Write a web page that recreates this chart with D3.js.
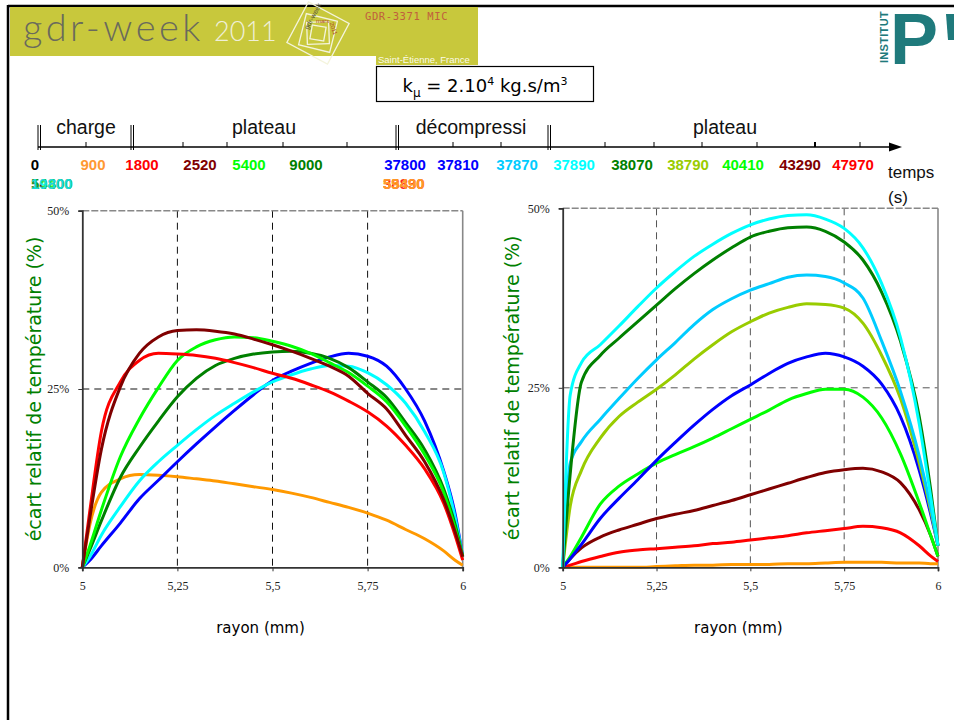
<!DOCTYPE html>
<html>
<head>
<meta charset="utf-8">
<script src="https://cdn.jsdelivr.net/npm/d3@7"></script>
<style>
  html, body { margin: 0; padding: 0; background: #fff; }
  svg { display: block; }
</style>
</head>
<body>
<svg id="slide" width="954" height="720"></svg>
<script>
// Radial sample positions (mm)
const radius = [5, 5.02, 5.05, 5.1, 5.15, 5.2, 5.25, 5.3, 5.35, 5.4, 5.45, 5.5,
                5.55, 5.6, 5.65, 5.7, 5.75, 5.8, 5.85, 5.9, 5.95, 5.98, 6];

// Axis ticks
const pctTicks = [0, 25, 50];
const radiusTicks = [5, 5.25, 5.5, 5.75, 6];

// Relative temperature deviation (%) – charge and first plateau
const dev900   = [0, 6, 10.5, 12.4, 13.0, 12.9, 12.7, 12.4, 12.1, 11.7, 11.3, 10.9, 10.4, 9.8, 9.1, 8.4, 7.6, 6.6, 5.3, 4.0, 2.3, 1.0, 0.3];
const dev1800  = [0, 8, 19, 26, 29, 30.0, 29.9, 29.7, 29.3, 28.7, 28.0, 27.2, 26.5, 25.6, 24.6, 23.3, 21.8, 19.8, 17.1, 13.8, 9.0, 4.5, 1.0];
const dev2520  = [0, 7, 16.5, 25.3, 30.0, 32.3, 33.2, 33.3, 33.1, 32.7, 32.0, 31.2, 30.3, 29.3, 28.2, 26.8, 24.4, 22.2, 18.5, 14.8, 9.5, 5.0, 1.5];
const dev5400  = [0, 3, 8, 15.5, 20.8, 25.2, 29.0, 30.9, 31.9, 32.3, 32.2, 31.7, 31.0, 30.0, 28.7, 27.3, 25.4, 23.2, 19.8, 15.8, 10.5, 5.5, 1.5];
const dev9000  = [0, 2.5, 6.5, 12.6, 16.8, 20.5, 23.9, 26.5, 28.3, 29.3, 29.9, 30.2, 30.3, 30.0, 29.3, 28.0, 26.0, 23.8, 20.3, 16.5, 11.0, 6.0, 1.5];
const dev19800 = [0, 1.5, 4.5, 8.5, 12.1, 14.8, 17.1, 19.3, 21.3, 23.0, 24.6, 26.0, 27.0, 27.8, 28.3, 28.2, 27.3, 25.6, 23.0, 19.0, 13.3, 7.0, 1.5];
const dev37800 = [0, 1.0, 3.0, 6.2, 9.6, 12.2, 14.8, 17.3, 19.7, 22.0, 24.2, 26.2, 27.5, 28.6, 29.5, 30.0, 29.6, 28.2, 25.0, 20.5, 13.5, 7.5, 1.5];

// Relative temperature deviation (%) – decompression and second plateau
const dev37810 = [0, 1.2, 3.2, 6.8, 9.6, 12.2, 14.9, 17.4, 19.8, 22.0, 23.9, 25.4, 27.0, 28.4, 29.3, 29.8, 29.3, 28.0, 25.5, 21.0, 13.5, 7.5, 3.0];
const dev37870 = [0, 14.5, 17.5, 20.6, 23.5, 26.3, 28.9, 31.3, 33.8, 35.9, 37.4, 38.6, 39.5, 40.4, 40.7, 40.5, 39.6, 37.5, 31.5, 24.5, 15.5, 8.5, 3.0];
const dev37890 = [0, 24, 28.5, 31.0, 33.6, 36.3, 38.9, 41.2, 43.3, 45.0, 46.5, 47.7, 48.5, 49.0, 49.1, 48.5, 47.2, 44.5, 39.5, 32.0, 20.0, 10.0, 3.0];
const dev38070 = [0, 13, 25.8, 29.5, 31.9, 34.2, 36.5, 38.8, 40.9, 42.8, 44.5, 46.0, 46.8, 47.3, 47.4, 46.8, 45.3, 42.8, 38.3, 31.5, 21.0, 11.0, 3.0];
const dev38790 = [0, 8.5, 13.5, 18.0, 21.0, 23.0, 24.8, 26.8, 29.0, 31.0, 32.8, 34.2, 35.4, 36.2, 36.7, 36.6, 36.1, 34.0, 29.5, 23.5, 14.5, 8.0, 3.0];
const dev40410 = [0, 1.5, 4.2, 8.8, 11.3, 13.0, 14.5, 15.7, 16.8, 18.0, 19.3, 20.6, 21.9, 23.3, 24.2, 24.8, 24.8, 23.7, 20.8, 15.8, 9.0, 4.5, 1.5];
const dev43290 = [0, 1.2, 2.7, 4.2, 5.2, 6.0, 6.8, 7.4, 7.9, 8.6, 9.3, 10.1, 10.9, 11.7, 12.5, 13.2, 13.6, 13.8, 13.3, 11.8, 8.0, 4.5, 1.5];
const dev47970 = [0, 0.3, 0.8, 1.5, 2.1, 2.4, 2.6, 2.8, 3.0, 3.3, 3.5, 3.8, 4.1, 4.4, 4.8, 5.1, 5.4, 5.7, 5.5, 4.8, 3.0, 1.6, 0.8];
const dev59490 = [0, 0, 0, 0, 0, 0, 0.1, 0.2, 0.3, 0.3, 0.4, 0.4, 0.4, 0.5, 0.5, 0.6, 0.7, 0.7, 0.7, 0.6, 0.6, 0.5, 0.5];

// Timeline: phases and time stamps (s)
const phaseLabels = ["charge", "plateau", "décompressi", "plateau"];
const timeLabels = ["0", "900", "1800", "2520", "5400", "9000", "37800", "37810",
                    "37870", "37890", "38070", "38790", "40410", "43290", "47970"];
const timeColors = ["#000000", "#ff9933", "#ff0000", "#800000", "#00ff00", "#008000", "#0000ff", "#0000ff",
                    "#00ccff", "#00ffff", "#008000", "#99cc00", "#00ff00", "#800000", "#ff0000"];

const C = {
  orange: "#ff9900", red: "#ff0000", darkred: "#800000", lime: "#00ff00",
  green: "#008000", cyan: "#00ffff", blue: "#0000ff", sky: "#00ccff", olive: "#99cc00"
};

// Draw order (later curves on top)
const leftSeries = [
  { values: dev900,   color: C.orange },
  { values: dev37800, color: C.blue },
  { values: dev19800, color: C.cyan },
  { values: dev9000,  color: C.green },
  { values: dev5400,  color: C.lime },
  { values: dev1800,  color: C.red },
  { values: dev2520,  color: C.darkred }
];
const rightSeries = [
  { values: dev59490, color: C.orange },
  { values: dev47970, color: C.red },
  { values: dev43290, color: C.darkred },
  { values: dev40410, color: C.lime },
  { values: dev37810, color: C.blue },
  { values: dev38790, color: C.olive },
  { values: dev37870, color: C.sky },
  { values: dev38070, color: C.green },
  { values: dev37890, color: C.cyan }
];

const svg = d3.select("#slide");

// ---------- Slide frame ----------
svg.append("line").attr("x1", 8).attr("x2", 954).attr("y1", 6).attr("y2", 6)
  .attr("stroke", "#000").attr("stroke-width", 2.5);
svg.append("line").attr("x1", 8).attr("x2", 8).attr("y1", 5).attr("y2", 720)
  .attr("stroke", "#000").attr("stroke-width", 2.5);

// ---------- Conference banner ----------
const banner = svg.append("g");
banner.append("rect").attr("x", 10).attr("y", 7).attr("width", 468).attr("height", 49).attr("fill", "#c8c83c");
banner.append("rect").attr("x", 376).attr("y", 55).attr("width", 102).attr("height", 10).attr("fill", "#c8c83c");
banner.append("text").attr("x", 23).attr("y", 41)
  .attr("font-family", "Lato, 'DejaVu Sans', sans-serif").attr("font-weight", 300)
  .attr("font-size", 38).attr("letter-spacing", 3.5).attr("fill", "#6a6a5c").text("gdr-week");
banner.append("text").attr("x", 214).attr("y", 41)
  .attr("font-family", "Lato, 'DejaVu Sans', sans-serif").attr("font-weight", 300)
  .attr("font-size", 27).attr("fill", "#efefd8").text("2011");
const emblem = banner.append("g").attr("transform", "translate(318,33)");
[[46, 28], [32, 14], [22, -2], [14, 10]].forEach(([s, a]) => {
  emblem.append("rect").attr("x", -s / 2).attr("y", -s / 2).attr("width", s).attr("height", s)
    .attr("transform", `rotate(${a})`).attr("fill", "none").attr("stroke", "#f4f4dc").attr("stroke-width", 1.3);
});
emblem.append("text").attr("transform", "rotate(-62) translate(-2,-10)").attr("font-size", 7)
  .attr("font-family", "Liberation Sans, sans-serif").attr("fill", "#55553a").text("gdr-week");
emblem.append("text").attr("x", -2).attr("y", -10).attr("font-size", 6)
  .attr("font-family", "Liberation Sans, sans-serif").attr("fill", "#b04a2a").text("mars");
emblem.append("text").attr("transform", "rotate(72) translate(-6,-14)").attr("font-size", 6)
  .attr("font-family", "Liberation Sans, sans-serif").attr("fill", "#b04a2a").text("2011");
banner.append("text").attr("x", 365).attr("y", 20)
  .attr("font-family", "'DejaVu Sans Mono', 'Liberation Mono', monospace").attr("font-size", 10.5)
  .attr("letter-spacing", 0.6).attr("fill", "#c0603c").text("GDR-3371 MIC");
banner.append("text").attr("x", 378).attr("y", 63)
  .attr("font-family", "'Liberation Sans Narrow', 'Liberation Sans', sans-serif").attr("font-size", 9.5)
  .attr("fill", "#fbfbe8").text("Saint-Étienne, France");

// ---------- Institute logo ----------
const logo = svg.append("g").attr("fill", "#1f7a7c");
logo.append("text").attr("transform", "translate(888,63) rotate(-90)")
  .attr("font-family", "'Liberation Sans Narrow', 'Liberation Sans', sans-serif").attr("font-weight", 700)
  .attr("font-size", 11).attr("letter-spacing", 0.3).text("INSTITUT");
logo.append("text").attr("x", 890).attr("y", 64)
  .attr("font-family", "'Liberation Sans', Arial, sans-serif").attr("font-weight", 700)
  .attr("font-size", 72).text("P");
logo.append("path").attr("d", "M946,14 L954,14 L954,40 L948,40 Z");

// ---------- Parameter box ----------
svg.append("rect").attr("x", 376.5).attr("y", 66.5).attr("width", 217).attr("height", 35)
  .attr("fill", "#fff").attr("stroke", "#000").attr("stroke-width", 1.2);
const kText = svg.append("text").attr("x", 485).attr("y", 92).attr("text-anchor", "middle")
  .attr("font-family", "'DejaVu Sans', sans-serif").attr("font-size", 18).attr("fill", "#000");
kText.append("tspan").text("k");
kText.append("tspan").attr("font-size", 12).attr("dy", 5).text("μ");
kText.append("tspan").attr("dy", -5).text(" = 2.10");
kText.append("tspan").attr("font-size", 11).attr("dy", -7).text("4");
kText.append("tspan").attr("dy", 7).text(" kg.s/m");
kText.append("tspan").attr("font-size", 11).attr("dy", -7).text("3");

// ---------- Timeline ----------
const tl = svg.append("g");
const axisY = 147;
tl.append("line").attr("x1", 38).attr("x2", 892).attr("y1", axisY).attr("y2", axisY)
  .attr("stroke", "#000").attr("stroke-width", 1.6);
tl.append("path").attr("d", `M889,${axisY - 4.5} L902,${axisY} L889,${axisY + 4.5} Z`).attr("fill", "#000");
[86, 183, 227, 283, 347, 453, 501, 605, 654, 702, 757, 815, 860].forEach(x => {
  tl.append("line").attr("x1", x).attr("x2", x).attr("y1", axisY - 5).attr("y2", axisY)
    .attr("stroke", "#000").attr("stroke-width", x === 815 ? 2 : 1);
});
[38, 131, 396, 548].forEach(x => {
  [x, x + 2.5].forEach(xx => tl.append("line").attr("x1", xx).attr("x2", xx)
    .attr("y1", 125).attr("y2", 150).attr("stroke", "#000").attr("stroke-width", 1));
});
const phaseX = [86, 264, 471, 725];
tl.selectAll("text.phase").data(phaseLabels).join("text").attr("class", "phase")
  .attr("x", (d, i) => phaseX[i]).attr("y", 134).attr("text-anchor", "middle")
  .attr("font-family", "'Liberation Sans', Arial, sans-serif").attr("font-size", 19.5).attr("fill", "#111")
  .text(d => d);

const stampX = [35, 93, 142, 200, 249, 306, 405, 458, 517, 574, 632, 688, 743, 800, 853];
tl.selectAll("text.stamp").data(timeLabels).join("text").attr("class", "stamp")
  .attr("x", (d, i) => stampX[i]).attr("y", 170).attr("text-anchor", "middle")
  .attr("font-family", "'Liberation Sans', Arial, sans-serif").attr("font-weight", 700)
  .attr("font-size", 15).attr("fill", (d, i) => timeColors[i]).text(d => d);

// Stamps stacked on top of each other under the first and the decompression markers
const stacked = [
  { x: 31, t: "5", c: "#008000" }, { x: 31, t: "14400", c: "#00ff00" }, { x: 31, t: "10800", c: "#800000" },
  { x: 31, t: "19800", c: "#00ffff" },
  { x: 383, t: "38830", c: "#ff0000" }, { x: 383, t: "55490", c: "#ff9900" }, { x: 383, t: "59490", c: "#ff9933" }
];
tl.selectAll("text.stack").data(stacked).join("text").attr("class", "stack")
  .attr("x", d => d.x).attr("y", 189)
  .attr("font-family", "'Liberation Sans', Arial, sans-serif").attr("font-weight", 700)
  .attr("font-size", 15).attr("fill", d => d.c).attr("opacity", 0.85).text(d => d.t);

tl.append("text").attr("x", 888).attr("y", 178)
  .attr("font-family", "'Liberation Sans', Arial, sans-serif").attr("font-size", 17).attr("fill", "#111").text("temps");
tl.append("text").attr("x", 888).attr("y", 203)
  .attr("font-family", "'Liberation Sans', Arial, sans-serif").attr("font-size", 17).attr("fill", "#111").text("(s)");

// ---------- Profile charts ----------
function drawChart(cfg) {
  const x = d3.scaleLinear().domain([5, 6]).range([cfg.x0, cfg.x1]);
  const y = d3.scaleLinear().domain([0, 50]).range([cfg.yb, cfg.yt]);
  const g = svg.append("g");

  // grid
  g.selectAll("line.vgrid").data([5.25, 5.5, 5.75]).join("line").attr("class", "vgrid")
    .attr("x1", d => x(d)).attr("x2", d => x(d)).attr("y1", y(50)).attr("y2", y(0))
    .attr("stroke", cfg.grid).attr("stroke-width", 1).attr("stroke-dasharray", "7,5");
  g.append("line").attr("x1", x(5)).attr("x2", x(6)).attr("y1", y(25)).attr("y2", y(25))
    .attr("stroke", cfg.grid).attr("stroke-width", 1).attr("stroke-dasharray", "7,5");
  // plot frame (top and right)
  g.append("line").attr("x1", x(5)).attr("x2", x(6)).attr("y1", y(50)).attr("y2", y(50))
    .attr("stroke", "#888").attr("stroke-width", 1.4).attr("stroke-dasharray", "7,2");
  g.append("line").attr("x1", x(6)).attr("x2", x(6)).attr("y1", y(50)).attr("y2", y(0))
    .attr("stroke", "#888").attr("stroke-width", 1.6);

  // curves
  const line = d3.line().x((d, i) => x(radius[i])).y(d => y(d)).curve(d3.curveMonotoneX);
  g.selectAll("path.curve").data(cfg.series).join("path").attr("class", "curve")
    .attr("d", d => line(d.values)).attr("fill", "none").attr("stroke", d => d.color)
    .attr("stroke-width", 3).attr("stroke-linejoin", "round");

  // axes
  const ax = g.append("g").attr("transform", `translate(0,${y(0)})`)
    .call(d3.axisBottom(x).tickValues(radiusTicks).tickSize(4).tickPadding(10)
      .tickFormat(d => String(d).replace(".", ",")));
  const ay = g.append("g").attr("transform", `translate(${x(5)},0)`)
    .call(d3.axisLeft(y).tickValues(pctTicks).tickSize(4).tickPadding(9).tickFormat(d => d + "%"));
  [ax, ay].forEach(a => {
    a.select(".domain").attr("stroke", "#333").attr("stroke-width", 1.8);
    a.selectAll(".tick line").attr("stroke", "#333");
    a.selectAll("text").attr("font-family", "'Liberation Serif', 'Times New Roman', serif")
      .attr("font-size", 12).attr("fill", "#222");
  });

  // titles
  g.append("text").attr("transform", `translate(${cfg.titleX},${(y(0) + y(50)) / 2}) rotate(-90)`)
    .attr("text-anchor", "middle").attr("dy", "0.35em")
    .attr("font-family", "'DejaVu Sans', sans-serif").attr("font-size", 19).attr("fill", "#008000")
    .text("écart relatif de température (%)");
  g.append("text").attr("x", (cfg.x0 + cfg.x1) / 2 - 12).attr("y", 633).attr("text-anchor", "middle")
    .attr("font-family", "'DejaVu Sans', sans-serif").attr("font-size", 15).attr("fill", "#000")
    .text("rayon (mm)");
}

drawChart({ x0: 82.3, x1: 462.7, yt: 210.7, yb: 567.3, grid: "#111", titleX: 34, series: leftSeries });
drawChart({ x0: 562.7, x1: 938, yt: 208.3, yb: 567.3, grid: "#555", titleX: 512, series: rightSeries });
</script>
</body>
</html>
